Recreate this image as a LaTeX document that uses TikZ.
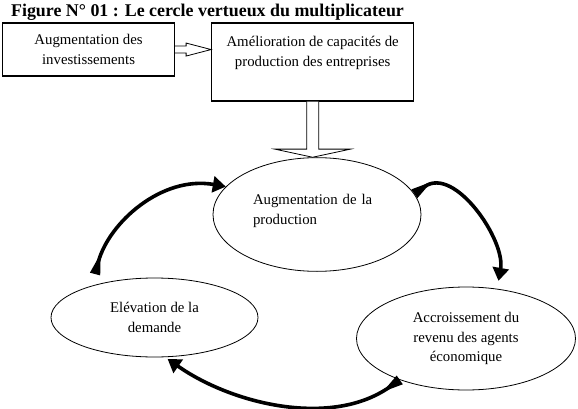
\documentclass[tikz,border=0pt]{standalone}
\usepackage{fontspec}
\setmainfont{Liberation Serif}
\usetikzlibrary{calc, shapes.geometric, arrows.meta, positioning}

\begin{document}
\begin{tikzpicture}[
    x=1pt, y=1pt,
    font=\fontsize{14.8}{19.7}\selectfont,
    box/.style={rectangle, draw=black, line width=1.1pt, align=center, inner sep=0pt},
    stage/.style={ellipse, draw=black, line width=0.8pt, align=center, inner sep=0pt},
    hollow/.style={draw=black, line width=0.8pt, fill=white},
    turnarrow/.style={line width=3.6pt, {Triangle[reversed, length=22pt, width=9.5pt]}-{Triangle[length=13pt, width=16pt]}}
]
\useasboundingbox (0,0) rectangle (578,-409);

% Title
\node (title) [anchor=base, font=\fontsize{17.9}{21}\selectfont\bfseries] at (207.5,-17) {Figure N° 01 : Le cercle vertueux du multiplicateur};

% Top boxes
\node (invest) [box, minimum width=172pt, minimum height=53pt, anchor=north west] at (2,-22.5) {Augmentation des\\investissements};
\node (capac) [box, minimum width=202pt, text height=43.5pt, text depth=34.5pt, right=36pt of invest.north east, anchor=north west] {Amélioration de capacités de\\production des entreprises};

% The circle
\node (prod) [stage, align=left, text width=128pt, text height=30pt, text depth=50.4pt, minimum width=208pt, minimum height=93pt] at (317,-214.5) {Augmentation de la\\production};
\node (elev) [stage, minimum width=207pt, minimum height=79pt] at (154.5,-317.5) {Elévation de la\\demande};
\node (revenu) [stage, minimum width=219pt, minimum height=103pt] at (466,-338.5) {Accroissement du\\revenu des agents\\économique};

% Block arrows
\draw [hollow] ($(invest.east)+(0,3.5)$) -- ++(11,0) -- ++(0,3) -- (invest.east -| capac.west) -- ($(invest.east)+(11,-6.5)$) -- ++(0,3) -- ($(invest.east)+(0,-3.5)$);
\draw [hollow] ($(capac.south)+(-6,0)$) |- ($(capac.south)+(-38,-47.5)$) -- (prod.north -| capac.south) -- ($(capac.south)+(38,-47.5)$) -| ($(capac.south)+(6,0)$);

% Connect the circle
\draw [turnarrow, shorten >=8pt] (prod.12) to[out=35, in=80] (revenu.58);
\draw [turnarrow, shorten >=3pt] (revenu.212) to[out=215, in=-35, looseness=0.9] (elev.285);
\draw [turnarrow, shorten <=12pt] (elev.153) to[out=75, in=170] (prod.163);

\end{tikzpicture}
\end{document}
